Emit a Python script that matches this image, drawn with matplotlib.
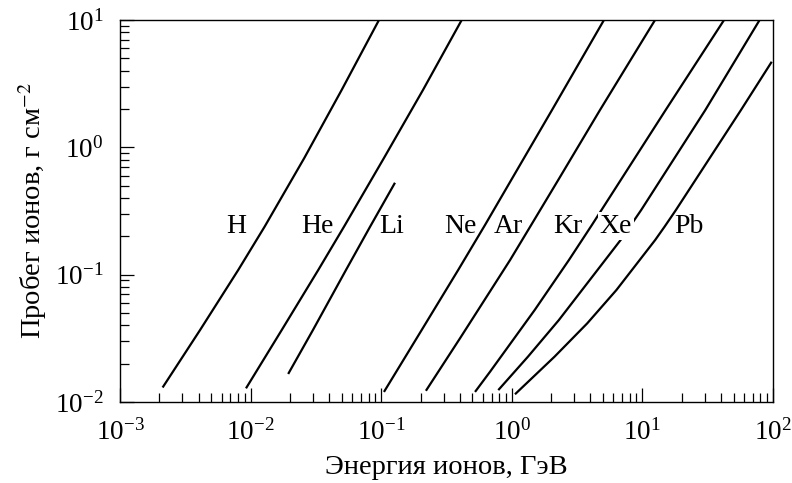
import matplotlib
matplotlib.use('Agg')
import matplotlib.pyplot as plt

plt.rcParams['font.family'] = ['Liberation Serif', 'DejaVu Serif']
plt.rcParams['mathtext.fontset'] = 'stix'

# energy, GeV / range, g cm^-2
h_energy = [0.00212, 0.0041, 0.00805, 0.0128, 0.0257, 0.0498, 0.0962]
h_range = [0.0130, 0.0367, 0.109, 0.238, 0.820, 2.82, 10.0]

he_energy = [0.00922, 0.0173, 0.0330, 0.0519, 0.1047, 0.2089, 0.4135]
he_range = [0.0128, 0.0367, 0.109, 0.238, 0.820, 2.82, 10.0]

li_energy = [0.0194, 0.0300, 0.0538, 0.0822, 0.1275]
li_range = [0.0166, 0.0367, 0.109, 0.238, 0.527]

ne_energy = [0.105, 0.204, 0.389, 0.623, 0.989, 2.03, 5.08]
ne_range = [0.0120, 0.0367, 0.109, 0.245, 0.553, 1.96, 10.0]

ar_energy = [0.220, 0.401, 0.969, 1.406, 2.265, 4.73, 12.5]
ar_range = [0.01225, 0.0316, 0.130, 0.245, 0.553, 1.96, 10.0]

kr_energy = [0.523, 0.682, 1.496, 2.734, 4.10, 15.05, 42.2]
kr_range = [0.0120, 0.0173, 0.0527, 0.130, 0.245, 1.96, 10.0]

xe_energy = [0.788, 1.330, 2.293, 6.89, 9.79, 30.3, 79.0]
xe_range = [0.0124, 0.0227, 0.0440, 0.190, 0.322, 1.96, 10.0]

pb_energy = [1.058, 2.125, 3.776, 6.322, 12.52, 14.78, 18.06, 56.8, 97.8]
pb_range = [0.0115, 0.0227, 0.0414, 0.0757, 0.187, 0.238, 0.322, 1.96, 4.70]

ion_names = ['H', 'He', 'Li', 'Ne', 'Ar', 'Kr', 'Xe', 'Pb']
label_energy = [0.00773, 0.0325, 0.121, 0.401, 0.935, 2.67, 6.28, 22.7]
label_range = 0.24

curves = [(h_energy, h_range), (he_energy, he_range), (li_energy, li_range),
          (ne_energy, ne_range), (ar_energy, ar_range), (kr_energy, kr_range),
          (xe_energy, xe_range), (pb_energy, pb_range)]

fig = plt.figure(figsize=(7.92, 4.83), dpi=100)
ax = fig.add_axes([0.1515, 0.1677, 0.8245, 0.7909])

for en, rng in curves:
    ax.plot(en, rng, color='black', lw=1.6, solid_capstyle='butt',
            solid_joinstyle='round')

for name, x in zip(ion_names, label_energy):
    t = ax.text(x, label_range, name, fontsize=20, ha='center', va='center')
    if name == 'Xe':
        # the Xe curve is broken where the label sits
        t.set_bbox(dict(facecolor='white', edgecolor='none', boxstyle='square,pad=0.05'))

ax.set_xscale('log')
ax.set_yscale('log')
ax.set_xlim(1e-3, 1e2)
ax.set_ylim(1e-2, 1e1)

ax.tick_params(which='both', direction='in', top=False, right=False,
               width=0.9, labelsize=19.5)
ax.tick_params(which='major', length=10, pad=12)
ax.tick_params(which='minor', length=6.5)
for sp in ax.spines.values():
    sp.set_linewidth(1.0)

ax.set_xlabel('Энергия ионов, ГэВ', fontsize=20.5, labelpad=7)
ax.set_ylabel('Пробег ионов, г см$^{-2}$', fontsize=20.5, labelpad=4)

fig.savefig('out.png', dpi=100)
